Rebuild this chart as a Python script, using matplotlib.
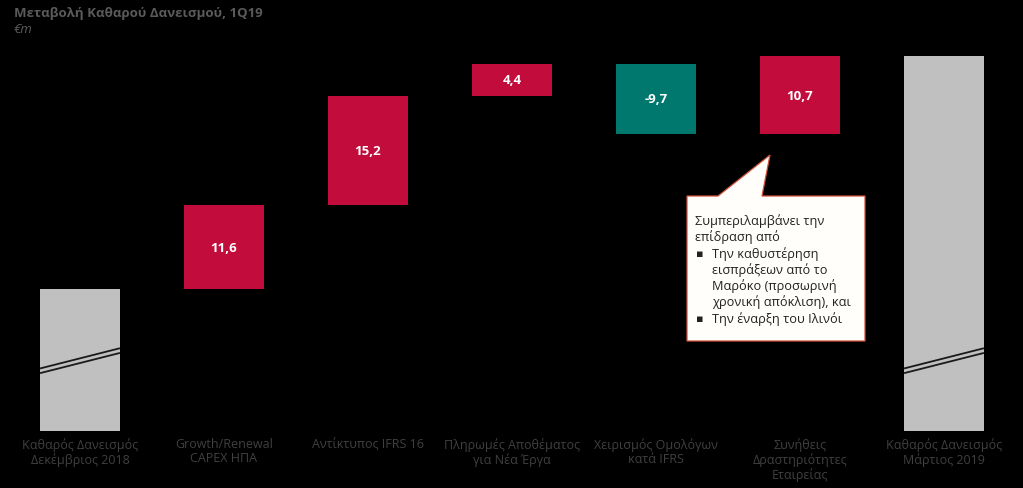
import matplotlib.pyplot as plt
from matplotlib.patches import Polygon

plt.rcParams['font.family'] = ['Open Sans', 'DejaVu Sans']

categories = [
    'Καθαρός Δανεισμός\nΔεκέμβριος 2018',
    'Growth/Renewal\nCAPEX ΗΠΑ',
    'Αντίκτυπος IFRS 16',
    'Πληρωμές Αποθέματος\nγια Νέα Έργα',
    'Χειρισμός Ομολόγων\nκατά IFRS',
    'Συνήθεις\nΔραστηριότητες\nΕταιρείας',
    'Καθαρός Δανεισμός\nΜάρτιος 2019',
]
# the start bar is drawn on a broken axis, so this is its visual height only
start_value = 19.6
changes = [11.6, 15.2, 4.4, -9.7, 10.7]

callout_intro = ['Συμπεριλαμβάνει την', 'επίδραση από']
callout_bullets = [
    ['Την καθυστέρηση', 'εισπράξεων από το', 'Μαρόκο (προσωρινή', 'χρονική απόκλιση), και'],
    ['Την έναρξη του Ιλινόι'],
]

RED = '#C20D3C'
TEAL = '#00786E'
GREY = '#C0C0C0'
LABEL_GREY = '#404040'
TITLE_GREY = '#5A5A5A'

W, H = 1023, 489
fig = plt.figure(figsize=(W / 100, H / 100), dpi=100, facecolor='black')
ax = fig.add_axes([0, 0, 1, 1])
ax.set_facecolor('black')
ax.axis('off')

px_per_unit = 7.23
ax.set_xlim(-80 / 144, (W - 80) / 144)
ax.set_ylim(-(H - 432) / px_per_unit, 432 / px_per_unit)

bar_w = 0.555

# waterfall
ax.bar(0, start_value, width=bar_w, color=GREY)
running = start_value
for i, d in enumerate(changes, start=1):
    bottom = running if d >= 0 else running + d
    ax.bar(i, abs(d), bottom=bottom, width=bar_w, color=RED if d >= 0 else TEAL)
    ax.text(i, bottom + abs(d) / 2, f'{d:.1f}'.replace('.', ','), ha='center', va='center',
            color='white', fontsize=9.5, fontweight='bold')
    running += d
last = len(categories) - 1
ax.bar(last, running, width=bar_w, color=GREY)

# axis break marks on the two total bars
for i in (0, last):
    for off in (0.0, -0.65):
        ax.plot([i - bar_w / 2, i + bar_w / 2], [8.65 + off, 11.45 + off],
                color='#1a1a1a', lw=1.3, solid_capstyle='butt')

for i, lab in enumerate(categories):
    ax.text(i, -0.85, lab, ha='center', va='top', color=LABEL_GREY,
            fontsize=9, linespacing=1.13)

# title
fig.text(14 / W, 1 - 13.5 / H, 'Μεταβολή Καθαρού Δανεισμού, 1Q19', ha='left', va='center',
         color=TITLE_GREY, fontsize=9.5, fontweight='bold')
fig.text(14 / W, 1 - 29.5 / H, '€m', ha='left', va='center', color=TITLE_GREY,
         fontsize=9.5, style='italic')

# callout box with pointer
pts = [(687, 197), (718, 197), (770, 156), (762, 197), (865, 197), (865, 342), (687, 342)]
poly = Polygon([(x / W, 1 - y / H) for x, y in pts], closed=True, transform=fig.transFigure,
               facecolor='#FFFEFB', edgecolor='#D0503A', lw=0.9)
fig.add_artist(poly)

y = 221
for line in callout_intro:
    fig.text(695 / W, 1 - y / H, line, ha='left', va='center', color='#222222', fontsize=9.2)
    y += 16.3
for group in callout_bullets:
    fig.text(696 / W, 1 - y / H, '▪', ha='left', va='center', color='#222222', fontsize=8,
             family=['DejaVu Sans'])
    for line in group:
        fig.text(712 / W, 1 - y / H, line, ha='left', va='center', color='#222222', fontsize=9.2)
        y += 16.3

fig.savefig('out.png', dpi=100, facecolor='black')
